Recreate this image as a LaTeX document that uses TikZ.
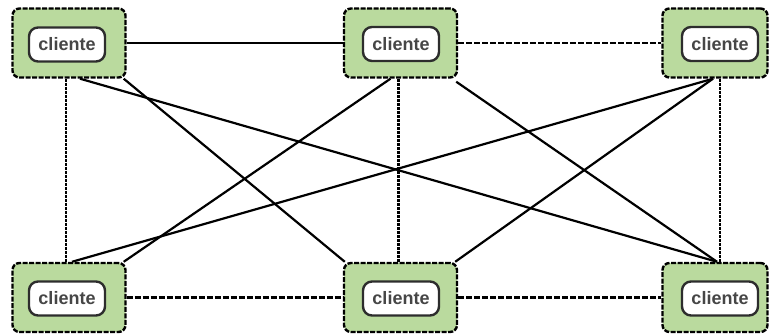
\documentclass[tikz,border=0pt]{standalone}
\usepackage{fontspec}
\setmainfont{Liberation Sans}
\usetikzlibrary{backgrounds}
\definecolor{boxgreen}{RGB}{186,218,158}
\definecolor{labelgray}{RGB}{45,45,45}
\definecolor{textgray}{RGB}{70,70,70}
\tikzset{
  hostbox/.style={draw=black, line width=2.4pt, dash pattern=on 5pt off 1.5pt, fill=boxgreen,
    rounded corners=7pt, minimum width=113pt, minimum height=69pt, inner sep=0pt},
  namelabel/.style={draw=labelgray, line width=2.4pt, fill=white, rounded corners=9pt,
    minimum width=76pt, minimum height=34pt, inner sep=0pt, text=textgray,
    font=\fontsize{18}{18}\selectfont\bfseries},
  link/.style={draw=black, line width=2.2pt},
  dashlink/.style={draw=black, line width=2.2pt, dash pattern=on 6pt off 2pt},
  dotlink/.style={draw=black, line width=2.2pt, dash pattern=on 3pt off 1pt},
}
\begin{document}
\begin{tikzpicture}[x=1pt,y=-1pt]
\useasboundingbox (0,0) rectangle (769,336);
\node[hostbox] (tl) at (69,43) {};
\node[hostbox] (tm) at (400.5,43) {};
\node[hostbox, minimum width=105pt] (tr) at (715,43) {};
\node[hostbox] (bl) at (69,297.5) {};
\node[hostbox] (bm) at (400.5,297.5) {};
\node[hostbox, minimum width=105pt] (br) at (715,297.5) {};
\node[namelabel] (tlL) at (67,44.5) {cliente};
\node[namelabel] (tmL) at (401,44) {cliente};
\node[namelabel] (trL) at (720,44) {cliente};
\node[namelabel] (blL) at (67,298.5) {cliente};
\node[namelabel] (bmL) at (401,298.5) {cliente};
\node[namelabel] (brL) at (720,298.5) {cliente};
\begin{scope}[on background layer]
% horizontal links
\draw[link] (tl.east) -- (tm.west);
\draw[dashlink] (tm.east) -- (tr.west);
\draw[dashlink] (bl.east) -- (bm.west);
\draw[dashlink] (bm.east) -- (br.west);
% vertical links
\draw[dotlink] ([xshift=-3pt]tl.south) -- ([xshift=-3pt]bl.north);
\draw[dotlink] ([xshift=-2pt]tm.south) -- ([xshift=-2pt]bm.north);
\draw[dotlink] ([xshift=5pt]tr.south) -- ([xshift=5pt]br.north);
% diagonals
\draw[link] ([xshift=11pt]tl.south) -- ([xshift=2pt]br.north);
\draw[link] ([xshift=-3pt]tl.south east) -- ([xshift=2pt]bm.north west);
\draw[link] ([xshift=-10pt]tm.south) -- ([xshift=-3pt]bl.north east);
\draw[link] ([xshift=-2pt,yshift=-3pt]tm.south east) -- ([xshift=2pt]br.north);
\draw[link] ([xshift=-2pt]tr.south) -- ([xshift=3pt]bl.north);
\draw[link] ([xshift=-2pt]tr.south) -- ([xshift=-3pt]bm.north east);
\end{scope}
\end{tikzpicture}
\end{document}
